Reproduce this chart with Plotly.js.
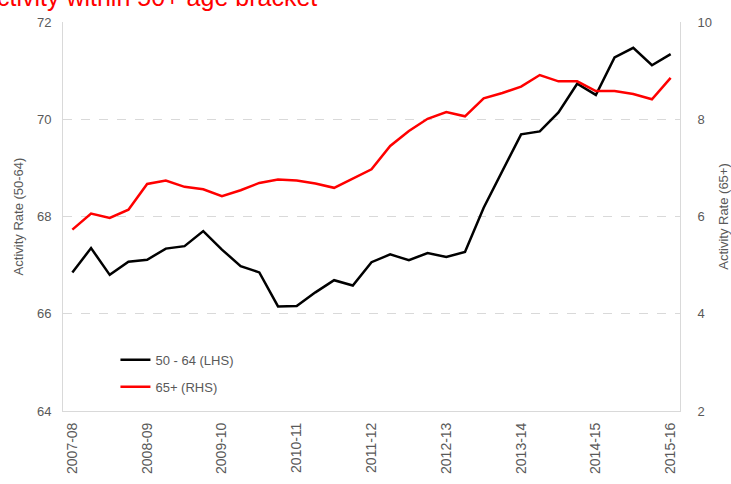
<!DOCTYPE html>
<html>
<head>
<meta charset="utf-8">
<script src="https://cdn.plot.ly/plotly-3.0.1.min.js"></script>
<style>html,body{margin:0;padding:0;background:#fff;}#chart{width:731px;height:484px;}</style>
</head>
<body>
<div id="chart"></div>
<script>
// Financial years shown as tick labels (one per 4 quarters)
var years = ["2007-08","2008-09","2009-10","2010-11","2011-12","2012-13","2013-14","2014-15","2015-16"];
// Activity rate, ages 50-64 (LHS), quarterly
var rate5064 = [66.85,67.35,66.80,67.07,67.11,67.34,67.39,67.70,67.32,66.98,66.85,66.15,66.16,66.44,66.69,66.58,67.06,67.22,67.10,67.25,67.17,67.27,68.18,68.93,69.69,69.75,70.14,70.73,70.50,71.27,71.47,71.11,71.34];
// Activity rate, ages 65+ (RHS), quarterly
var rate65 = [5.73,6.06,5.97,6.14,6.67,6.74,6.61,6.56,6.42,6.54,6.69,6.76,6.74,6.68,6.59,6.78,6.97,7.45,7.76,8.01,8.15,8.06,8.43,8.54,8.67,8.91,8.78,8.78,8.58,8.58,8.52,8.41,8.85];

var quarters = ["Q1","Q2","Q3","Q4"];
var cats = [];
for (var y = 0; y < years.length; y++) {
  for (var q = 0; q < 4; q++) {
    if (cats.length < rate5064.length) cats.push(years[y] + " " + quarters[q]);
  }
}
var tickv = years.map(function(yr){ return yr + " Q1"; });

var grey = "#595959";
var traces = [
  {x: cats, y: rate5064, type: "scatter", mode: "lines", name: "50 - 64 (LHS)",
   line: {color: "#000000", width: 2.5}, legendgroup: "a", yaxis: "y"},
  {x: cats, y: rate65, type: "scatter", mode: "lines", name: "65+ (RHS)",
   line: {color: "#ff0000", width: 2.5}, legendgroup: "b", yaxis: "y2"}
];

var layout = {
  width: 731, height: 484,
  paper_bgcolor: "#ffffff", plot_bgcolor: "#ffffff",
  font: {family: "Liberation Sans, Arial, sans-serif", color: grey, size: 13},
  margin: {l: 63, r: 51, t: 22, b: 73},
  title: {text: "Economic activity within 50+ age bracket", font: {color: "#ff0000", size: 25},
          xref: "container", yref: "paper", x: 0.434, xanchor: "right", y: 1.0, yanchor: "bottom",
          pad: {b: 16}},
  showlegend: true,
  legend: {x: 0.085, y: 0.17, xanchor: "left", yanchor: "top", bgcolor: "rgba(0,0,0,0)",
           font: {size: 13, color: grey}, tracegroupgap: 7, itemwidth: 30},
  xaxis: {type: "category", range: [-0.5, 32.5], tickvals: tickv, ticktext: years,
          tickangle: -90, showgrid: false, showline: true, linecolor: "#d9d9d9", linewidth: 1,
          ticks: "", zeroline: false, ticklabelstandoff: 5, tickfont: {size: 14, color: grey}},
  yaxis: {range: [64, 72], dtick: 2, showgrid: true, gridcolor: "#d9d9d9", griddash: "dash",
          gridwidth: 1, showline: true, linecolor: "#d9d9d9", zeroline: false, ticks: "",
          ticklabelstandoff: 8, tickfont: {size: 13, color: grey},
          title: {text: "Activity Rate (50-64)", font: {size: 13, color: grey}, standoff: 10}},
  yaxis2: {range: [2, 10], dtick: 2, overlaying: "y", side: "right", showgrid: false,
           showline: true, linecolor: "#d9d9d9", zeroline: false, ticks: "",
           ticklabelstandoff: 14, tickfont: {size: 13, color: grey},
           title: {text: "Activity Rate (65+)", font: {size: 13, color: grey}, standoff: 10}}
};

Plotly.newPlot("chart", traces, layout, {displayModeBar: false, staticPlot: true});
</script>
</body>
</html>
